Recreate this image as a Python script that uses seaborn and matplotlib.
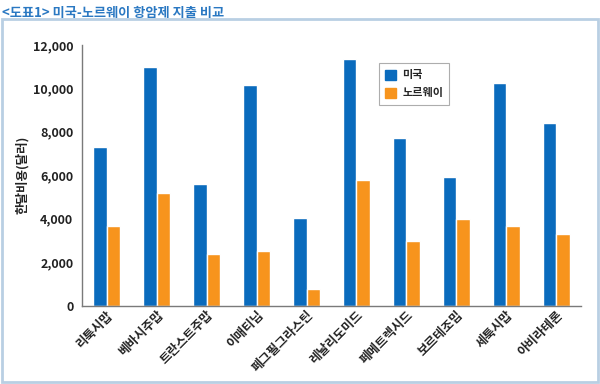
import matplotlib
matplotlib.use("Agg")
import matplotlib.pyplot as plt
import matplotlib.patches as mpatches
from matplotlib.ticker import FixedLocator, FuncFormatter
import seaborn as sns
import pandas as pd
import numpy as np

# 데이터
drugs = ['리툭시맙', '베바시주맙', '트란스트주맙', '이매티닙', '페그필그라스틴',
         '레날리도미드', '페메트렉시드', '보르테조밉', '세툭시맙', '아비라테론']
usa = [7300, 11000, 5600, 10150, 4050, 11350, 7700, 5900, 10250, 8400]
norway = [3680, 5180, 2400, 2530, 750, 5770, 2990, 4000, 3650, 3280]
countries = ['미국', '노르웨이']
yticks = [0, 2000, 4000, 6000, 8000, 10000, 12000]

sns.set_style('white')
plt.rcParams['font.family'] = ['Noto Sans CJK KR', 'DejaVu Sans']
plt.rcParams['axes.unicode_minus'] = False

df = pd.DataFrame({
    'drug': drugs * 2,
    'cost': usa + norway,
    'country': [countries[0]] * len(drugs) + [countries[1]] * len(drugs),
})

blue = '#0a6bbd'
orange = '#f7941d'

fig = plt.figure(figsize=(6, 3.84), dpi=100)
ax = fig.add_axes([0.136, 0.204, 0.833, 0.679])

sns.barplot(data=df, x='drug', y='cost', hue='country', palette=[blue, orange],
            width=0.54, gap=0, ax=ax, saturation=1, errorbar=None)

ax.set_xlim(-0.5, len(drugs) - 0.5)
ax.set_ylim(0, 12000)
ax.set_yticks(yticks)
ax.yaxis.set_major_formatter(FuncFormatter(lambda v, p: f'{int(v):,}'))
ax.set_xlabel('')
ax.set_ylabel('한달비용(달러)', fontsize=9, fontweight='bold', color='#222222', labelpad=3)

for s in ['top', 'right']:
    ax.spines[s].set_visible(False)
for s in ['left', 'bottom']:
    ax.spines[s].set_color('#7a7a7a')
    ax.spines[s].set_linewidth(1.0)

ax.tick_params(axis='y', direction='out', length=4, width=0.8, color='#7a7a7a',
               labelsize=9, labelcolor='#222222', pad=2)
for lab in ax.get_yticklabels():
    lab.set_fontweight('bold')

ax.tick_params(axis='x', which='major', length=0, labelsize=9, labelcolor='#222222', pad=2)
ax.set_xticks(range(len(drugs)))
ax.set_xticklabels(drugs, rotation=45, ha='right', rotation_mode='anchor', fontweight='bold')
ax.xaxis.set_minor_locator(FixedLocator(np.arange(0.5, len(drugs) - 0.5, 1)))
ax.tick_params(axis='x', which='minor', direction='in', length=4, width=0.8, color='#7a7a7a')

handles = [mpatches.Patch(color=blue, label=countries[0]),
           mpatches.Patch(color=orange, label=countries[1])]
leg = ax.legend(handles=handles, loc='upper left', bbox_to_anchor=(0.595, 0.931),
                borderaxespad=0, frameon=True, fancybox=False, edgecolor='#999999',
                fontsize=8, handlelength=1.0, handleheight=1.0, borderpad=0.5,
                labelspacing=0.45, handletextpad=0.6)
leg.get_frame().set_linewidth(0.8)
for t in leg.get_texts():
    t.set_fontweight('bold')

# 외곽 박스
fig.patches.append(mpatches.Rectangle((0.004, 0.006), 0.992, 0.945, transform=fig.transFigure,
                                      fill=False, edgecolor='#b9cfe3', linewidth=2))

fig.text(0.004, 0.985, '<도표1> 미국-노르웨이 항암제 지출 비교', fontsize=9.5, fontweight='bold',
         color='#2a78c2', ha='left', va='top')

fig.savefig('out.png', dpi=100)
